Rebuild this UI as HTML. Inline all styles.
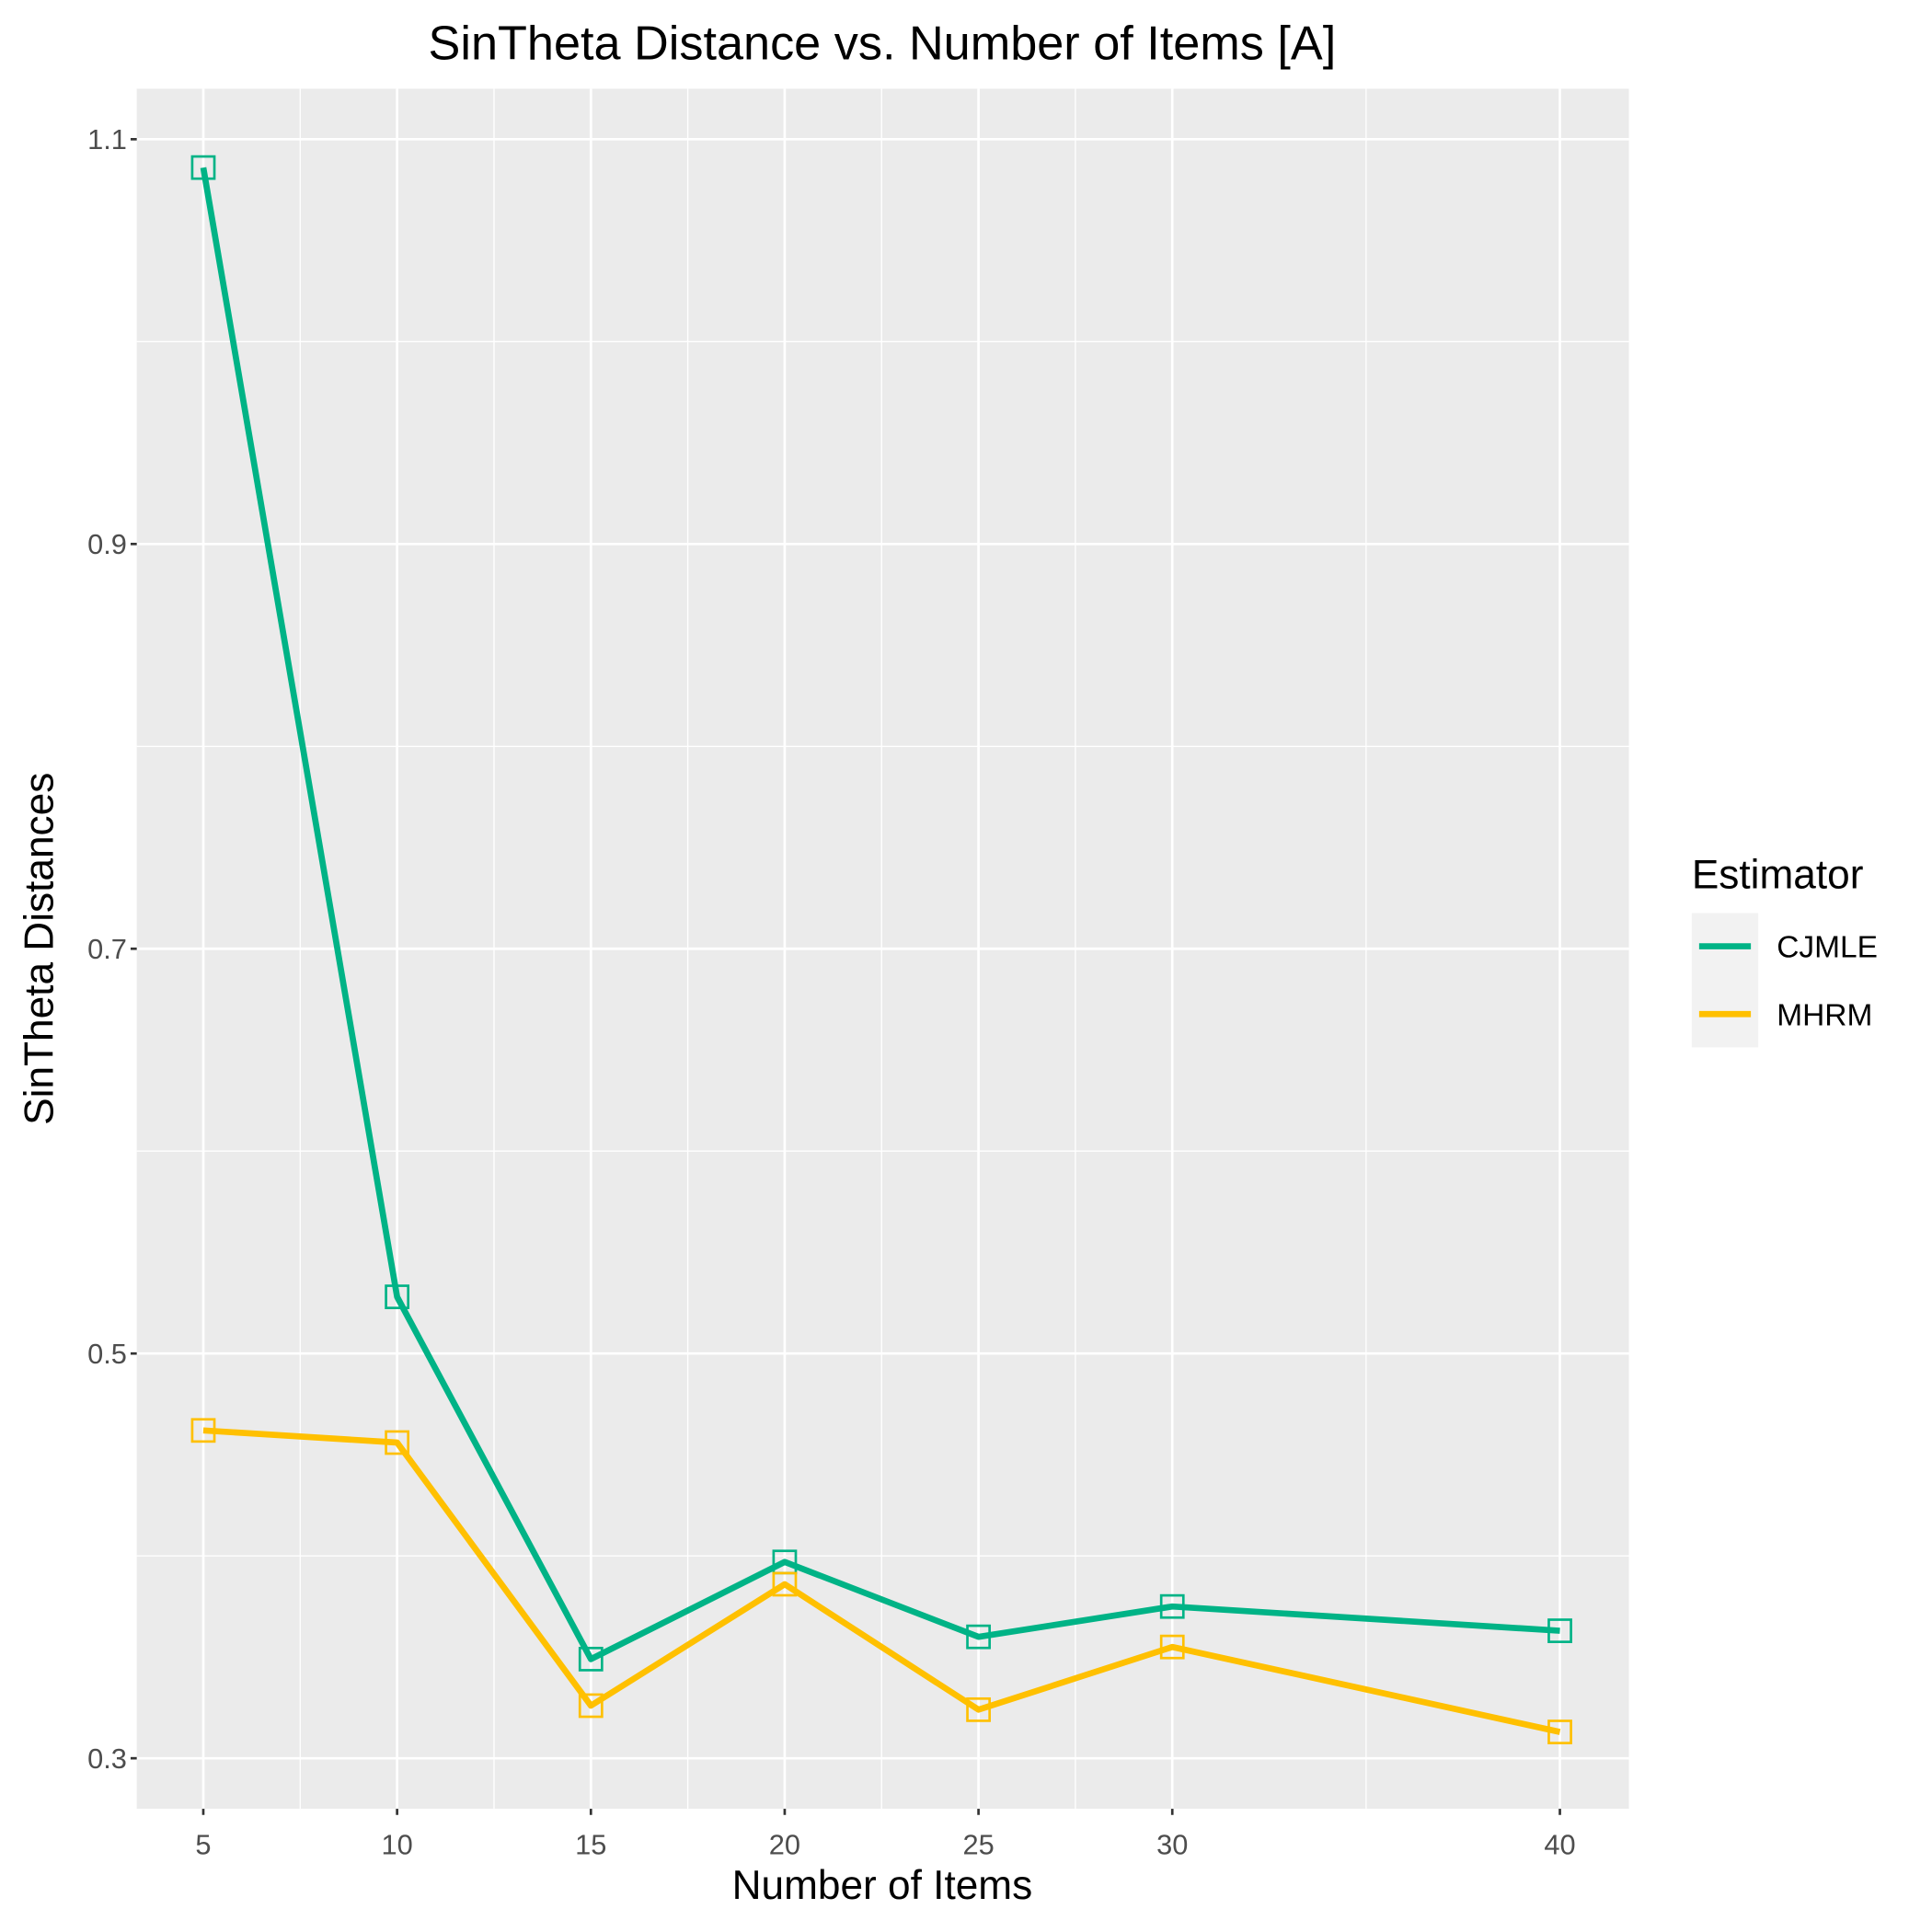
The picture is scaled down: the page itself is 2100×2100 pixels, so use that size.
<!DOCTYPE html>
<html><head><meta charset="utf-8"><style>html,body{margin:0;padding:0;background:#fff}svg{display:block}</style></head>
<body>
<svg id="chart" width="2100" height="2100" viewBox="0 0 1568 1568" xmlns="http://www.w3.org/2000/svg" font-family="'Liberation Sans', sans-serif">
<rect width="1568" height="1568" fill="#fff"/>
<text x="716" y="48" font-size="39" text-anchor="middle" fill="#000">SinTheta Distance vs. Number of Items [A]</text>
<rect x="111" y="72" width="1211" height="1396" fill="#ebebeb"/>
<g id="grid"></g>
<g id="axes"></g>
<g id="series"></g>
<text x="716" y="1541" font-size="33" text-anchor="middle" fill="#000">Number of Items</text>
<text transform="translate(43,770) rotate(-90)" font-size="33" text-anchor="middle" fill="#000">SinTheta Distances</text>
<g>
<text x="1373" y="721" font-size="33" fill="#000">Estimator</text>
<rect x="1373" y="741" width="54" height="109" fill="#f2f2f2"/>
<line x1="1379" y1="768" x2="1421" y2="768" stroke="#00B386" stroke-width="5"/>
<line x1="1379" y1="823" x2="1421" y2="823" stroke="#FFC000" stroke-width="5"/>
<text x="1442" y="777" font-size="25" fill="#000">CJMLE</text>
<text x="1442" y="832" font-size="25" fill="#000">MHRM</text>
</g>
</svg>
<script>
const categories = [5, 10, 15, 20, 25, 30, 40];
const cjmle = [1.086, 0.528, 0.349, 0.397, 0.360, 0.375, 0.363];
const mhrm = [0.462, 0.456, 0.326, 0.386, 0.324, 0.355, 0.313];
const yTicks = [0.3, 0.5, 0.7, 0.9, 1.1];
const yMinor = [0.4, 0.6, 0.8, 1.0];
const xMinor = [7.5, 12.5, 17.5, 22.5, 27.5, 35];

const NS = "http://www.w3.org/2000/svg";
const X0 = 111, X1 = 1322, Y0 = 72, Y1 = 1468;
function xs(v){ return 165 + (v - 5) * (1266 - 165) / 35; }
function ys(v){ return 1427 - (v - 0.3) * (1427 - 113) / 0.8; }
function mk(tag, attrs, parent){ const e = document.createElementNS(NS, tag); for (const k in attrs) e.setAttribute(k, attrs[k]); parent.appendChild(e); return e; }
const grid = document.getElementById('grid'), axes = document.getElementById('axes'), series = document.getElementById('series');
yMinor.forEach(v => { const l = mk('line', {x1:X0, x2:X1, y1:ys(v), y2:ys(v), stroke:'#fff', 'stroke-width':1}, grid);
  
   });
xMinor.forEach(v => { const l = mk('line', {x1:xs(v), x2:xs(v), y1:Y0, y2:Y1, stroke:'#fff', 'stroke-width':1}, grid);
  
   });
yTicks.forEach(v => { const y = ys(v);
  const l = mk('line', {x1:X0, x2:X1, y1:y, y2:y, stroke:'#fff', 'stroke-width':2}, grid);
  
  
  mk('line', {x1:X0-5, x2:X0, y1:y, y2:y, stroke:'#333', 'stroke-width':2}, axes);
  const t = mk('text', {x:X0-8, y:y+8, 'font-size':23, fill:'#4d4d4d', 'text-anchor':'end'}, axes);
  t.textContent = v.toFixed(1);
  
   });
categories.forEach(v => { const x = xs(v);
  const l = mk('line', {x1:x, x2:x, y1:Y0, y2:Y1, stroke:'#fff', 'stroke-width':2}, grid);
  
  
  mk('line', {x1:x, x2:x, y1:Y1, y2:Y1+5, stroke:'#333', 'stroke-width':2}, axes);
  const t = mk('text', {x:x, y:Y1+37, 'font-size':23, fill:'#4d4d4d', 'text-anchor':'middle'}, axes);
  t.textContent = v;
  
   });
function draw(vals, color, name){
  const pts = vals.map((v,i) => xs(categories[i]) + ',' + ys(v)).join(' ');
  const pl = mk('polyline', {points:pts, fill:'none', stroke:color, 'stroke-width':5, 'stroke-linejoin':'round'}, series);
  
  
  vals.forEach((v,i) => { const r = mk('rect', {x:xs(categories[i])-9, y:ys(v)-9, width:18, height:18, fill:'none', stroke:color, 'stroke-width':2}, series);
    
     });
}
draw(cjmle, '#00B386', 'cjmle');
draw(mhrm, '#FFC000', 'mhrm');
</script>
</body></html>
